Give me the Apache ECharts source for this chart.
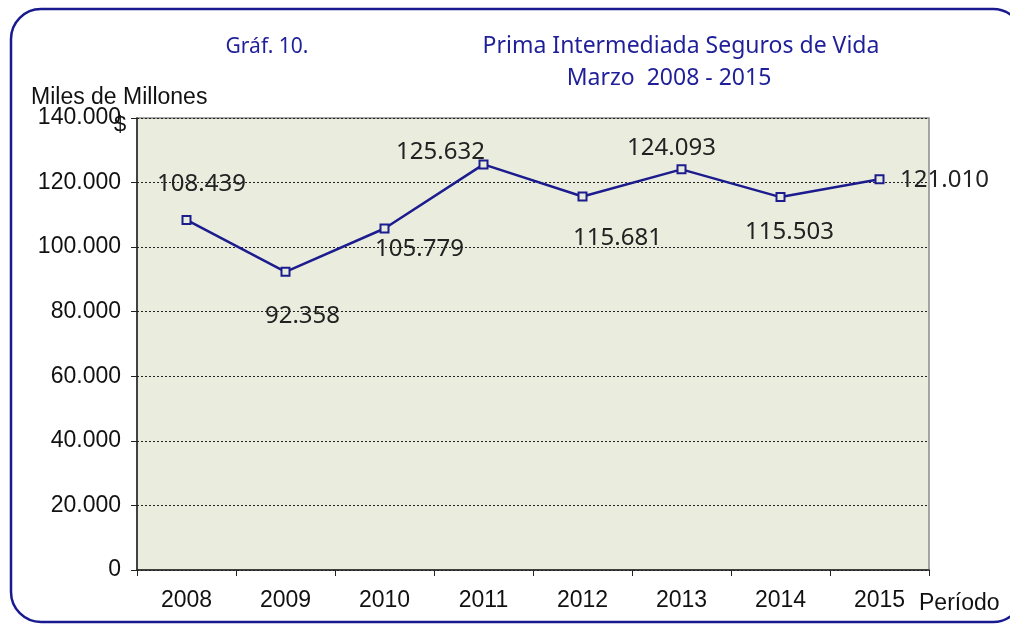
<!DOCTYPE html>
<html>
<head>
<meta charset="utf-8">
<script src="https://cdn.jsdelivr.net/npm/echarts@6/dist/echarts.min.js"></script>
<style>html,body{margin:0;padding:0;background:#fff}#c{width:1010px;height:626px}</style>
</head>
<body>
<div id="c"></div>
<script>
var categories = ['2008','2009','2010','2011','2012','2013','2014','2015'];
var values = [108439, 92358, 105779, 125632, 115681, 124093, 115503, 121010];
var labelOffsets = [[15,-36],[17,44],[35,21],[-43,-12],[35,42],[-10,-21],[9,35],[65,1]];
var yTicks = [0, 20000, 40000, 60000, 80000, 100000, 120000, 140000];

function fmt(v){ return v === 0 ? '0' : String(v).replace(/\B(?=(\d{3})+(?!\d))/g, '.'); }

var chart = echarts.init(document.getElementById('c'));
var navy = '#1c1c8e';
chart.setOption({
  animation: false,
  graphic: [
    { type: 'rect', shape: { x: 11, y: 9, width: 1012, height: 613, r: 30 }, style: { fill: 'none', stroke: '#1a1a90', lineWidth: 2.5 }, z: 0 },
    { type: 'text', x: 267, y: 37, style: { text: 'Gráf. 10.', font: '21px "Noto Sans"', fill: '#1f1f9a', textAlign: 'center' } },
    { type: 'text', x: 681, y: 35, style: { text: 'Prima Intermediada Seguros de Vida', font: '23px "Noto Sans"', fill: '#1f1f9a', textAlign: 'center' } },
    { type: 'text', x: 669, y: 67, style: { text: 'Marzo  2008 - 2015', font: '23px "Noto Sans"', fill: '#1f1f9a', textAlign: 'center' } },
    { type: 'text', x: 31, y: 86, style: { text: 'Miles de Millones', font: '23px "Liberation Sans"', fill: '#111' } },
    { type: 'text', x: 114, y: 114, style: { text: '$', font: '22px "Liberation Sans"', fill: '#111' } },
    { type: 'text', x: 919, y: 592, style: { text: 'Período', font: '23px "Liberation Sans"', fill: '#111' } }
  ],
  grid: { left: 137, right: 81, top: 118, bottom: 56, show: true, backgroundColor: '#EAEDDE', borderColor: '#8a8a8a', borderWidth: 1.5 },
  xAxis: {
    type: 'category', data: categories, boundaryGap: true,
    axisLine: { lineStyle: { color: '#222', width: 1.5 } },
    axisTick: { show: true, length: 6, lineStyle: { color: '#222' } },
    axisLabel: { color: '#111', fontSize: 23, fontFamily: 'Liberation Sans', margin: 19 }
  },
  yAxis: {
    type: 'value', min: 0, max: 140000, interval: 20000,
    axisLine: { show: true, lineStyle: { color: '#222', width: 1.5 } },
    axisTick: { show: true, length: 6, lineStyle: { color: '#222' } },
    axisLabel: { color: '#111', fontSize: 23, fontFamily: 'Liberation Sans', margin: 16, formatter: function(v){ return yTicks.indexOf(v) >= 0 ? fmt(v) : ''; } },
    splitLine: { show: true, lineStyle: { color: '#222', type: [2, 2], width: 1 } }
  },
  series: [{
    type: 'line', data: values.map(function(v, i){
      return { value: v, label: { offset: labelOffsets[i] } };
    }),
    symbol: 'rect', symbolSize: 8,
    itemStyle: { color: '#e8ecdc', borderColor: navy, borderWidth: 2 },
    lineStyle: { color: navy, width: 2.5 },
    label: { show: true, position: 'inside', color: '#222', fontSize: 24, fontFamily: 'Noto Sans', formatter: function(p){ return fmt(p.value); } },
    z: 5
  }]
});
</script>
</body>
</html>
